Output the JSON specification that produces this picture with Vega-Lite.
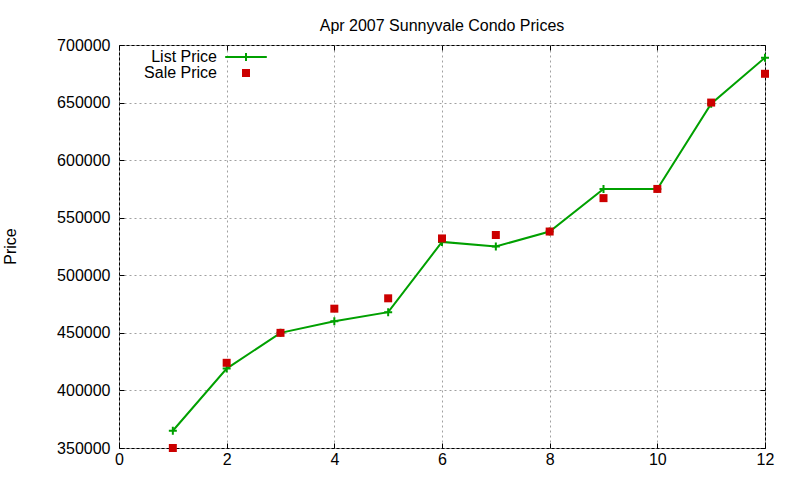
{
  "$schema": "https://vega.github.io/schema/vega-lite/v6.json",
  "width": 646,
  "height": 403,
  "autosize": "none",
  "padding": {"left": 119, "top": 45, "right": 35, "bottom": 32},
  "background": "white",
  "title": {
    "text": "Apr 2007 Sunnyvale Condo Prices",
    "anchor": "middle",
    "baseline": "alphabetic",
    "offset": 17,
    "dy": 27,
    "fontSize": 16,
    "fontWeight": "normal",
    "font": "Liberation Sans",
    "color": "black"
  },
  "data": {
    "values": [
      {"month": 1, "price": 365000, "series": "List Price"},
      {"month": 2, "price": 419000, "series": "List Price"},
      {"month": 3, "price": 450000, "series": "List Price"},
      {"month": 4, "price": 460000, "series": "List Price"},
      {"month": 5, "price": 468000, "series": "List Price"},
      {"month": 6, "price": 529000, "series": "List Price"},
      {"month": 7, "price": 525000, "series": "List Price"},
      {"month": 8, "price": 538000, "series": "List Price"},
      {"month": 9, "price": 575000, "series": "List Price"},
      {"month": 10, "price": 575000, "series": "List Price"},
      {"month": 11, "price": 649000, "series": "List Price"},
      {"month": 12, "price": 689000, "series": "List Price"},
      {"month": 1, "price": 350000, "series": "Sale Price"},
      {"month": 2, "price": 424000, "series": "Sale Price"},
      {"month": 3, "price": 450000, "series": "Sale Price"},
      {"month": 4, "price": 471000, "series": "Sale Price"},
      {"month": 5, "price": 480000, "series": "Sale Price"},
      {"month": 6, "price": 532000, "series": "Sale Price"},
      {"month": 7, "price": 535000, "series": "Sale Price"},
      {"month": 8, "price": 538000, "series": "Sale Price"},
      {"month": 9, "price": 567000, "series": "Sale Price"},
      {"month": 10, "price": 575000, "series": "Sale Price"},
      {"month": 11, "price": 650000, "series": "Sale Price"},
      {"month": 12, "price": 675000, "series": "Sale Price"}
    ]
  },
  "layer": [
    {
      "transform": [{"filter": "datum.series === 'List Price'"}],
      "mark": {"type": "line", "color": "#00a000", "strokeWidth": 2},
      "encoding": {
        "x": {
          "field": "month", "type": "quantitative",
          "scale": {"domain": [0, 12], "nice": false},
          "axis": {"values": [0, 2, 4, 6, 8, 10, 12], "title": null, "grid": true, "labelPadding": 8}
        },
        "y": {
          "field": "price", "type": "quantitative",
          "scale": {"domain": [350000, 700000], "nice": false, "zero": false},
          "axis": {
            "values": [350000, 400000, 450000, 500000, 550000, 600000, 650000, 700000],
            "format": "d", "grid": true, "labelPadding": 14,
            "title": "Price", "titleAngle": -90, "titleX": -104, "titleY": 201,
            "titleAlign": "center", "titleBaseline": "alphabetic"
          }
        }
      }
    },
    {
      "transform": [{"filter": "datum.series === 'List Price'"}],
      "mark": {"type": "point", "shape": "M-1,0H1M0,-1V1", "filled": false, "opacity": 1, "color": "#00a000", "strokeWidth": 2, "size": 64},
      "encoding": {
        "x": {"field": "month", "type": "quantitative", "axis": null},
        "y": {"field": "price", "type": "quantitative", "axis": null}
      }
    },
    {
      "transform": [{"filter": "datum.series === 'Sale Price'"}],
      "mark": {"type": "point", "shape": "square", "filled": true, "opacity": 1, "color": "#cc0000", "size": 64},
      "encoding": {
        "x": {"field": "month", "type": "quantitative", "axis": null},
        "y": {"field": "price", "type": "quantitative", "axis": null}
      }
    },
    {
      "transform": [{"filter": "datum.month > 100"}],
      "mark": {"type": "point", "filled": true, "opacity": 1, "strokeWidth": 2},
      "encoding": {
        "x": {
          "field": "month", "type": "quantitative",
          "axis": {"orient": "top", "values": [0, 2, 4, 6, 8, 10, 12], "labels": false, "grid": false, "title": null}
        },
        "y": {
          "field": "price", "type": "quantitative",
          "axis": {"orient": "right", "values": [350000, 400000, 450000, 500000, 550000, 600000, 650000, 700000], "labels": false, "grid": false, "title": null}
        },
        "color": {
          "field": "series", "type": "nominal",
          "scale": {"domain": ["List Price", "Sale Price"], "range": ["#00a000", "#cc0000"]},
          "legend": {
            "title": null,
            "orient": "none",
            "legendX": 119,
            "legendY": 4,
            "padding": 0,
            "symbolSize": 64,
            "labelAlign": "right",
            "labelOffset": -37,
            "labelFontSize": 16,
            "labelFont": "Liberation Sans",
            "labelColor": "black",
            "rowPadding": -2.5,
            "symbolStrokeWidth": 2
          }
        },
        "shape": {
          "field": "series", "type": "nominal",
          "scale": {"domain": ["List Price", "Sale Price"], "range": ["M-5.2,0H5.2M0,-1V1", "square"]}
        },
        "stroke": {
          "field": "series", "type": "nominal",
          "scale": {"domain": ["List Price", "Sale Price"], "range": ["#00a000", "transparent"]},
          "legend": null
        },
        "size": {"value": 64}
      }
    }
  ],
  "resolve": {"axis": {"x": "independent", "y": "independent"}},
  "config": {
    "view": {"stroke": "black", "strokeWidth": 1},
    "axis": {
      "domain": false,
      "labelFlush": false,
      "tickColor": "black",
      "tickSize": -5,
      "labelFont": "Liberation Sans",
      "labelFontSize": 16,
      "labelColor": "black",
      "titleFont": "Liberation Sans",
      "titleFontSize": 16,
      "titleFontWeight": "normal",
      "titleColor": "black",
      "gridColor": "#a0a0a0",
      "gridDash": [2, 3],
      "gridOpacity": 1,
      "gridWidth": 1
    }
  }
}
